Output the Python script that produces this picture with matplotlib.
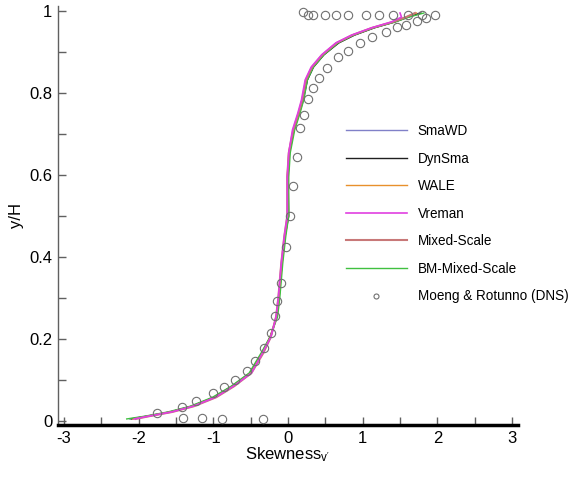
import matplotlib
matplotlib.use("Agg")
import matplotlib.pyplot as plt
from matplotlib import rcParams

rcParams['font.family'] = ['Liberation Sans', 'DejaVu Sans']
rcParams['mathtext.fontset'] = 'custom'
rcParams['mathtext.rm'] = 'Liberation Sans'
rcParams['mathtext.it'] = 'Liberation Sans'
rcParams['axes.unicode_minus'] = False

# LES profiles (y/H shared, skewness per model)
y_les = [0.005, 0.012, 0.022, 0.036, 0.058, 0.085, 0.117, 0.166, 0.205, 0.254,
         0.30, 0.385, 0.45, 0.50, 0.595, 0.654, 0.71, 0.75, 0.783, 0.832,
         0.863, 0.893, 0.922, 0.941, 0.959, 0.973, 0.985, 0.995]

x_smawd = [-2.12, -1.89, -1.59, -1.29, -0.99, -0.74, -0.50, -0.34, -0.23, -0.15,
           -0.12, -0.08, -0.04, 0.00, 0.00, 0.02, 0.08, 0.15, 0.21, 0.26,
           0.34, 0.48, 0.67, 0.88, 1.15, 1.42, 1.60, 1.76]
x_dynsma = [-2.10, -1.88, -1.58, -1.29, -0.99, -0.75, -0.51, -0.35, -0.24, -0.15,
            -0.12, -0.08, -0.04, 0.01, 0.00, 0.02, 0.08, 0.15, 0.20, 0.26,
            0.34, 0.48, 0.68, 0.89, 1.16, 1.43, 1.61, 1.78]
x_wale = [-2.08, -1.87, -1.57, -1.28, -0.98, -0.74, -0.50, -0.35, -0.24, -0.15,
          -0.12, -0.08, -0.04, 0.00, -0.01, 0.01, 0.07, 0.14, 0.19, 0.24,
          0.32, 0.46, 0.65, 0.86, 1.13, 1.40, 1.58, 1.72]
x_vreman = [-2.06, -1.86, -1.56, -1.27, -0.97, -0.73, -0.49, -0.34, -0.23, -0.16,
            -0.13, -0.09, -0.05, -0.01, -0.01, 0.01, 0.06, 0.13, 0.18, 0.23,
            0.31, 0.45, 0.64, 0.85, 1.12, 1.38, 1.52, 1.50]
x_mixed = [-2.04, -1.85, -1.55, -1.26, -0.96, -0.72, -0.49, -0.33, -0.23, -0.16,
           -0.13, -0.09, -0.05, -0.01, -0.01, 0.01, 0.07, 0.14, 0.19, 0.24,
           0.32, 0.46, 0.65, 0.86, 1.13, 1.40, 1.58, 1.70]
x_bm = [-2.16, -1.91, -1.61, -1.31, -1.01, -0.76, -0.52, -0.36, -0.24, -0.14,
        -0.11, -0.07, -0.03, 0.01, 0.01, 0.03, 0.09, 0.16, 0.21, 0.26,
        0.34, 0.48, 0.67, 0.88, 1.15, 1.43, 1.62, 1.82]

# DNS (Moeng & Rotunno)
x_dns = [-1.75, -1.42, -1.23, -1.00, -0.86, -0.71, -0.55, -0.44, -0.32, -0.23,
         -0.17, -0.15, -0.09, -0.03, 0.03, 0.07, 0.12, 0.16, 0.21, 0.27,
         0.34, 0.42, 0.52, 0.67, 0.80, 0.96, 1.12, 1.31, 1.46, 1.58, 1.73, 1.85,
         -1.41, -1.15, -0.88, -0.34,
         0.20, 0.27, 0.34, 0.49, 0.64, 0.80, 1.04, 1.22, 1.40, 1.61, 1.79, 1.97]
y_dns = [0.020, 0.034, 0.049, 0.068, 0.083, 0.100, 0.122, 0.146, 0.178, 0.215,
         0.256, 0.293, 0.337, 0.424, 0.500, 0.573, 0.644, 0.715, 0.746, 0.785,
         0.812, 0.837, 0.861, 0.888, 0.902, 0.922, 0.937, 0.949, 0.961, 0.966, 0.976, 0.983,
         0.007, 0.007, 0.005, 0.005,
         0.998, 0.990, 0.990, 0.990, 0.990, 0.990, 0.990, 0.990, 0.990, 0.990, 0.990, 0.990]

fig = plt.figure(figsize=(5.71, 4.79), dpi=100)
ax = fig.add_axes([0.1016, 0.1127, 0.8056, 0.8747])

ax.plot(x_smawd, y_les, color='#8080c8', lw=1.0, label='SmaWD', zorder=2)
ax.plot(x_dynsma, y_les, color='#202020', lw=1.0, label='DynSma', zorder=2)
ax.plot(x_wale, y_les, color='#e8902c', lw=1.0, label='WALE', zorder=2)
ax.plot(x_vreman, y_les, color='#e040e0', lw=1.2, label='Vreman', zorder=4)
ax.plot(x_mixed, y_les, color='#c87878', lw=1.5, label='Mixed-Scale', zorder=3)
ax.plot(x_bm, y_les, color='#40c040', lw=1.0, label='BM-Mixed-Scale', zorder=2)
ax.plot(x_dns, y_dns, ls='none', marker='o', ms=6, mfc='none', mec='#707070',
        mew=0.8, label='Moeng & Rotunno (DNS)', zorder=5)

ax.set_xlim(-3.08, 3.08)
ax.set_ylim(-0.0098, 1.012)
ax.set_xticks([-3, -2, -1, 0, 1, 2, 3])
ax.set_xticks([-2.5, -1.5, -0.5, 0.5, 1.5, 2.5], minor=True)
ax.set_yticks([0, 0.2, 0.4, 0.6, 0.8, 1])
ax.set_yticks([0.1, 0.3, 0.5, 0.7, 0.9], minor=True)
ax.set_yticklabels(['0', '0.2', '0.4', '0.6', '0.8', '1'])

for side in ['top', 'right']:
    ax.spines[side].set_visible(False)
ax.spines['left'].set_color('#606060')
ax.spines['left'].set_linewidth(1.0)
ax.spines['bottom'].set_color('black')
ax.spines['bottom'].set_linewidth(2.5)

ax.tick_params(which='both', direction='in', length=6, width=1, color='#606060',
               labelsize=12, pad=4)

ax.set_xlabel("Skewness$_{\\rm v'}$", fontsize=12, labelpad=0)
ax.set_ylabel('y/H', fontsize=12, labelpad=4)

fig.legend(loc='upper left', bbox_to_anchor=(0.606, 0.741), frameon=False,
           fontsize=9.75, handlelength=4.5, handletextpad=0.8, labelspacing=1.0,
           borderpad=0, borderaxespad=0, markerscale=0.6)

fig.savefig('out.png', dpi=100)
